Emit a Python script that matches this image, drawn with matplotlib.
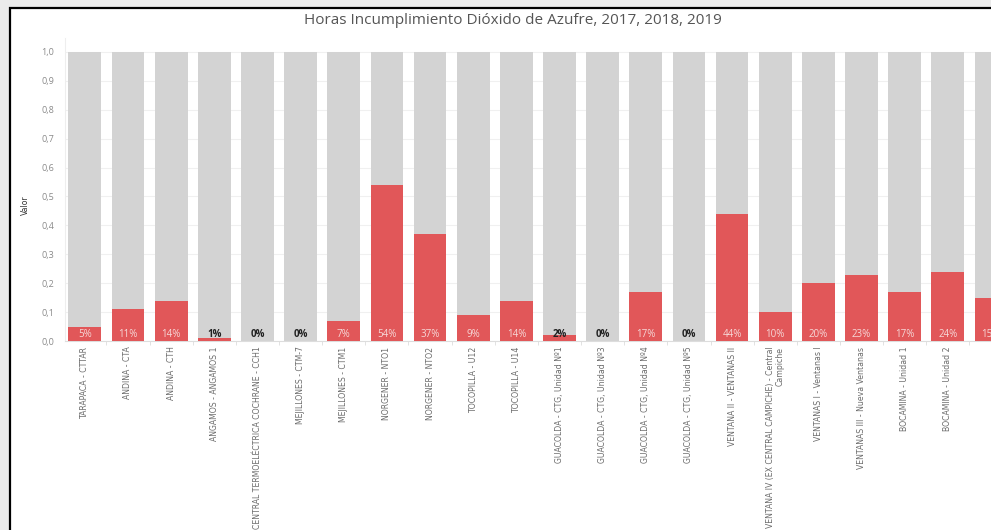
import matplotlib
matplotlib.use("Agg")
import matplotlib.pyplot as plt
import numpy as np
from matplotlib import font_manager
from matplotlib.patches import Rectangle

# datos
categories = [
    "TARAPACA - CTTAR", "ANDINA - CTA", "ANDINA - CTH", "ANGAMOS - ANGAMOS 1",
    "CENTRAL TERMOELÉCTRICA COCHRANE - CCH1", "MEJILLONES - CTM-7", "MEJILLONES - CTM1",
    "NORGENER - NTO1", "NORGENER - NTO2", "TOCOPILLA - U12", "TOCOPILLA - U14",
    "GUACOLDA - CTG, Unidad Nº1", "GUACOLDA - CTG, Unidad Nº3", "GUACOLDA - CTG, Unidad Nº4",
    "GUACOLDA - CTG, Unidad Nº5", "VENTANA II - VENTANAS II",
    "VENTANA IV (EX CENTRAL CAMPICHE) - Central\nCampiche", "VENTANAS I - Ventanas I",
    "VENTANAS III - Nueva Ventanas", "BOCAMINA - Unidad 1", "BOCAMINA - Unidad 2", "",
]
valor = [0.05, 0.11, 0.14, 0.01, 0.0, 0.0, 0.07, 0.54, 0.37, 0.09, 0.14,
         0.02, 0.0, 0.17, 0.0, 0.44, 0.10, 0.20, 0.23, 0.17, 0.24, 0.15]
total = [1.0] * len(valor)
y_ticks = [0.0, 0.1, 0.2, 0.3, 0.4, 0.5, 0.6, 0.7, 0.8, 0.9, 1.0]

# fuente estrecha para las etiquetas (si hay alguna instalada)
narrow_file = None
for pref in ['LiberationSansNarrow-Regular', 'DejaVuSansCondensed.', 'Condensed', 'Narrow']:
    for f in font_manager.fontManager.ttflist:
        if pref in f.fname and 'Bold' not in f.fname and 'Oblique' not in f.fname and 'Italic' not in f.fname:
            narrow_file = f.fname
            break
    if narrow_file:
        break
if narrow_file:
    narrow = font_manager.FontProperties(fname=narrow_file, size=6.2)
else:
    narrow = font_manager.FontProperties(family='DejaVu Sans', size=5.2)
plt.rcParams['font.family'] = ['Open Sans', 'DejaVu Sans']

W, H = 991, 530
fig = plt.figure(figsize=(W / 100, H / 100), dpi=100, facecolor='#ebebeb')
fig.add_artist(Rectangle((10 / W, -0.02), 1.0, 1.02 - 8 / H, transform=fig.transFigure,
                         facecolor='white', edgecolor='black', lw=1.6, zorder=-1))

ax = fig.add_axes([65 / W, (H - 341) / H, (W - 65) / W, (341 - 38) / H])
ax.set_facecolor('white')

x = np.arange(len(valor))
ax.bar(x, total, width=0.76, color='#d3d3d3', zorder=2)
ax.bar(x, valor, width=0.76, color='#e15759', zorder=3)

for xi, v in zip(x, valor):
    txt = f"{round(v * 100):d}%"
    if v < 0.03:
        ax.text(xi, 0.022, txt, ha='center', va='center', fontsize=7, color='#222222',
                fontweight='bold', zorder=4)
    else:
        ax.text(xi, 0.022, txt, ha='center', va='center', fontsize=7, color='#f6d8d8', zorder=4)

ax.set_xlim(-0.46, 20.92)
ax.set_ylim(0, 1.048)
ax.set_yticks(y_ticks)
ax.set_yticklabels([f"{t:.1f}".replace('.', ',') for t in y_ticks], fontsize=6.5, color='#8a8a8a')
ax.grid(axis='y', color='#f0f0f0', lw=0.8, zorder=0)

ax.set_xticks(x)
ax.set_xticklabels(categories, rotation=90, fontproperties=narrow, color='#6b6b6b',
                   ha='center', va='top', multialignment='right')
ax.set_xticks(x[:-1] + 0.5, minor=True)
ax.tick_params(axis='x', which='major', length=0, pad=4)
ax.tick_params(axis='x', which='minor', length=3, color='#dddddd')
ax.tick_params(axis='y', length=0, pad=8)

for s in ['top', 'right']:
    ax.spines[s].set_visible(False)
ax.spines['left'].set_color('#eeeeee')
ax.spines['bottom'].set_color('#dddddd')

fig.text(513 / W, 1 - 21 / H, "Horas Incumplimiento Dióxido de Azufre, 2017, 2018, 2019",
         ha='center', va='center', fontsize=11, color='#555555')
fig.text(25 / W, 1 - 205 / H, "Valor", rotation=90, ha='center', va='center',
         fontproperties=narrow, color='#333333')

fig.savefig("out.png", dpi=100, facecolor=fig.get_facecolor())
